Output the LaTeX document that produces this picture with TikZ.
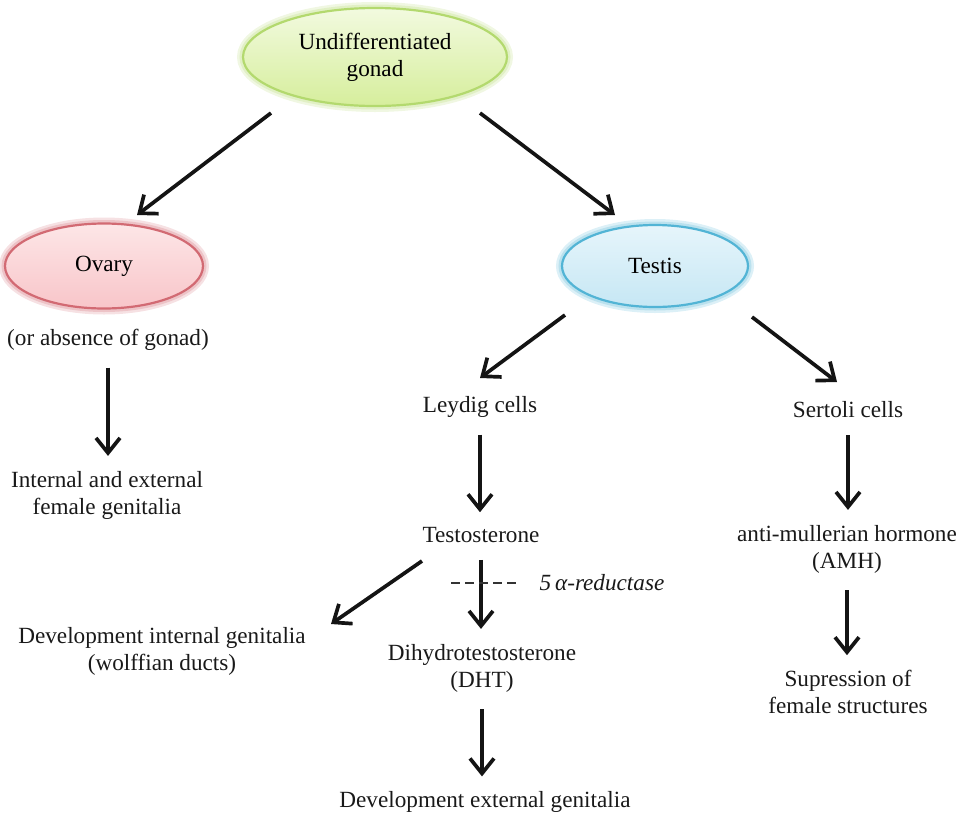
\documentclass[tikz,border=0pt]{standalone}
\usepackage{fontspec}
\setmainfont{Liberation Serif}
\usetikzlibrary{arrows.meta,shapes.geometric}

\definecolor{undifftop}{HTML}{F2FADF}
\definecolor{undiffbot}{HTML}{D6EE9C}
\definecolor{undiffline}{HTML}{B3D96E}
\definecolor{ovarytop}{HTML}{FDE6E7}
\definecolor{ovarybot}{HTML}{F8C5C9}
\definecolor{ovaryline}{HTML}{D26A73}
\definecolor{testistop}{HTML}{E6F5FB}
\definecolor{testisbot}{HTML}{C6E7F4}
\definecolor{testisline}{HTML}{52B4D5}
\newcommand{\diagfont}{\fontsize{11.6}{13.5}\selectfont}

\begin{document}
\begin{tikzpicture}[
			x=0.5pt, y=-0.5pt,
			font=\diagfont,
			gonad/.style n args={3}{
				ellipse,
				top color=#1,
				bottom color=#2,
				draw=#3,
				line width=1.1pt,
				preaction={draw=#3!20, line width=6pt},
				preaction={draw=#3!40, line width=3.5pt},
				inner sep=0pt,
				align=center
			},
			stage/.style={
				align=center,
				text=black!90
			},
			arr/.style={
				-{Straight Barb[length=7.5pt,width=12pt]},
				line width=1.85pt,
				draw=black!92
			},
			vshort/.style={
				shorten <=5pt,
				shorten >=4pt
			},
			cut/.style={
				line width=0.85pt,
				draw=black!80,
				dash pattern=on 4.5pt off 2.5pt
			}
			]
			\useasboundingbox (0,0) rectangle (960,815);
			
			% gonads
			\node[gonad={undifftop}{undiffbot}{undiffline}, minimum width=132pt, minimum height=49pt] (undiff) at (375,57) {Undifferentiated\\gonad};
			\node[gonad={ovarytop}{ovarybot}{ovaryline}, minimum width=99pt, minimum height=42.5pt] (ovary) at (104,266) {Ovary};
			\node[gonad={testistop}{testisbot}{testisline}, minimum width=93pt, minimum height=41pt] (testis) at (655,266) {Testis};
			
			% female branch
			\node[stage] (absence) at (108,340) {(or absence of gonad)};
			\node[stage] (femgen) at (107,495) {Internal and external\\female genitalia};
			
			% male branch
			\node[stage] (leydig) at (480,407) {Leydig cells};
			\node[stage] (sertoli) at (848,410) {Sertoli cells};
			\node[stage] (testo) at (481,535) {Testosterone};
			\node[stage, font=\diagfont\itshape] (enzyme) at (602,583) {5\,α-reductase};
			\node[stage] (devint) at (162,651) {Development internal genitalia\\(wolffian ducts)};
			\node[stage] (dht) at (482,668) {Dihydrotestosterone\\(DHT)};
			\node[stage] (devext) at (485,802) {Development external genitalia};
			\node[stage] (amh) at (847,549) {anti-mullerian hormone\\(AMH)};
			\node[stage] (supp) at (848,692) {Supression of\\female structures};
			
			\draw[arr] ([shift={(-104,56)}]undiff.center) -- ([shift={(33,-51)}]ovary.center);
			\draw[arr] ([shift={(105,56)}]undiff.center) -- ([shift={(-40,-51)}]testis.center);
			\draw[arr] ([shift={(-90,49)}]testis.center) -- ([shift={(0,-29)}]leydig.center);
			\draw[arr] ([shift={(97,51)}]testis.center) -- ([shift={(-11,-28)}]sertoli.center);
			\draw[arr] ([shift={(-59,26)}]testo.center) -- ([shift={(169,-27)}]devint.center);
			
			\draw[arr, vshort] (absence) -- (absence |- femgen.north);
			\draw[arr, vshort] (leydig) -- (leydig |- testo.north);
			\draw[arr, vshort] (testo) -- (testo |- dht.north);
			\draw[arr, vshort] (dht) -- (dht |- devext.north);
			\draw[arr, vshort] (sertoli) -- (sertoli |- amh.north);
			\draw[arr, vshort] (amh) -- (amh |- supp.north);
			
			\draw[cut] ([xshift=-8.5pt]enzyme.west) -- ++(-70,0);
		\end{tikzpicture}
\end{document}
